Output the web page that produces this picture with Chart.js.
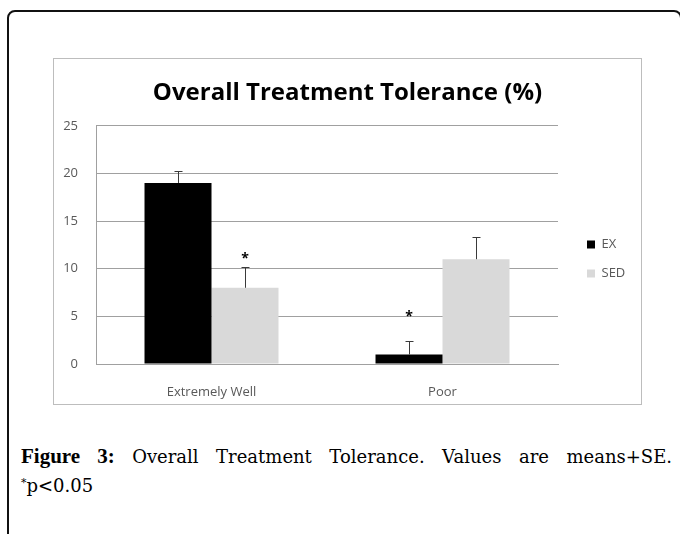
<!DOCTYPE html>
<html><head><meta charset="utf-8">
<script src="https://cdn.jsdelivr.net/npm/chart.js@4/dist/chart.umd.min.js"></script>
<style>
html,body{margin:0;padding:0;background:#fff;width:680px;height:534px;overflow:hidden;position:relative}
#frame{position:absolute;left:7px;top:10px;width:675px;height:580px;border:2px solid #111;border-radius:8px;box-sizing:border-box}
#box{position:absolute;left:53px;top:58px;width:589px;height:347px;border:1px solid #bdbdbd;box-sizing:border-box;background:#fff}
#box canvas{display:block}
.cap{position:absolute;left:21px;width:651px;font-family:"DejaVu Serif",serif;font-size:18px;line-height:30px;color:#000;white-space:nowrap}
.cap b{font-family:"Liberation Serif",serif;font-size:21px}
#l1{top:441px;text-align:justify;text-align-last:justify;white-space:normal}
#l2{top:471px}
#l2 sup{font-size:11px;vertical-align:top;position:relative;top:-3px}
</style></head>
<body>
<div id="frame"></div>
<div id="box"><canvas id="c" width="587" height="345"></canvas></div>
<div class="cap" id="l1"><b>Figure 3:</b> Overall Treatment Tolerance. Values are means+SE.</div>
<div class="cap" id="l2"><sup>*</sup>p&lt;0.05</div>
<script>
const chartTitle = 'Overall Treatment Tolerance (%)';
const categories = ['Extremely Well', 'Poor'];
const seriesNames = ['EX', 'SED'];
const exValues = [19, 1];
const sedValues = [8, 11];
const exErrors = [1.3, 1.4];
const sedErrors = [2.2, 2.3];
const yTicks = [0, 5, 10, 15, 20, 25];
const sigMarks = [ {dataset: 1, index: 0, value: 11.4}, {dataset: 0, index: 1, value: 5.3} ];

const FONT = '"Open Sans"';
const legendPlace = {
  id: 'legendPlace',
  beforeInit(chart) {
    const lg = chart.legend;
    const fit = lg.fit;
    lg.fit = function () { fit.call(lg); lg.width = 83; };
  },
  afterLayout(chart) {
    const lg = chart.legend;
    lg.left += 13; lg.right += 13; lg.top += 14; lg.bottom += 14;
  }
};
const errorBars = {
  id: 'errorBars',
  afterDatasetsDraw(chart) {
    const ctx = chart.ctx, ys = chart.scales.y;
    chart.data.datasets.forEach((ds, di) => {
      const meta = chart.getDatasetMeta(di);
      meta.data.forEach((bar, i) => {
        const top = Math.round(ys.getPixelForValue(ds.data[i] + ds.errors[i])) + 0.5;
        const x = Math.round(bar.x) + 0.5;
        ctx.save();
        ctx.strokeStyle = '#3a3a3a'; ctx.lineWidth = 1;
        ctx.beginPath();
        ctx.moveTo(x, bar.y); ctx.lineTo(x, top);
        ctx.moveTo(x - 4, top); ctx.lineTo(x + 4, top);
        ctx.stroke();
        ctx.restore();
      });
    });
    sigMarks.forEach(m => {
      const bar = chart.getDatasetMeta(m.dataset).data[m.index];
      const y = ys.getPixelForValue(m.value);
      ctx.save();
      ctx.fillStyle = '#000';
      ctx.font = 'bold 14px ' + FONT;
      ctx.textAlign = 'center'; ctx.textBaseline = 'middle';
      ctx.fillText('*', bar.x, y + 4);
      ctx.restore();
    });
  }
};

new Chart(document.getElementById('c'), {
  type: 'bar',
  data: {
    labels: categories,
    datasets: [
      { label: seriesNames[0], data: exValues, errors: exErrors, backgroundColor: '#000000' },
      { label: seriesNames[1], data: sedValues, errors: sedErrors, backgroundColor: '#d9d9d9' }
    ]
  },
  options: {
    responsive: false,
    animation: false,
    devicePixelRatio: 1,
    layout: { padding: 0 },
    datasets: { bar: { categoryPercentage: 0.58, barPercentage: 1.0, borderWidth: 0 } },
    plugins: {
      title: { display: true, text: chartTitle, color: '#000', font: { family: FONT, size: 24, weight: 'bold' }, padding: { top: 20, bottom: 18 } },
      legend: {
        position: 'right', fullSize: false, align: 'center',
        labels: { boxWidth: 8, boxHeight: 8, padding: 16, color: '#595959', font: { family: FONT, size: 13 } }
      },
      tooltip: { enabled: false }
    },
    scales: {
      x: {
        grid: { display: false, drawTicks: false },
        border: { display: true, color: '#a0a0a0' },
        ticks: { color: '#595959', font: { family: FONT, size: 13 }, padding: 20 },
        afterFit(s) { s.height = 40; }
      },
      y: {
        min: 0, max: 25,
        afterBuildTicks(s) { s.ticks = yTicks.map(v => ({ value: v })); },
        grid: { color: '#a0a0a0', drawTicks: false },
        border: { display: true, color: '#a0a0a0' },
        ticks: { color: '#595959', font: { family: FONT, size: 13 }, padding: 18 },
        afterFit(s) { s.width = 42; }
      }
    }
  },
  plugins: [legendPlace, errorBars]
});
</script>
</body></html>
